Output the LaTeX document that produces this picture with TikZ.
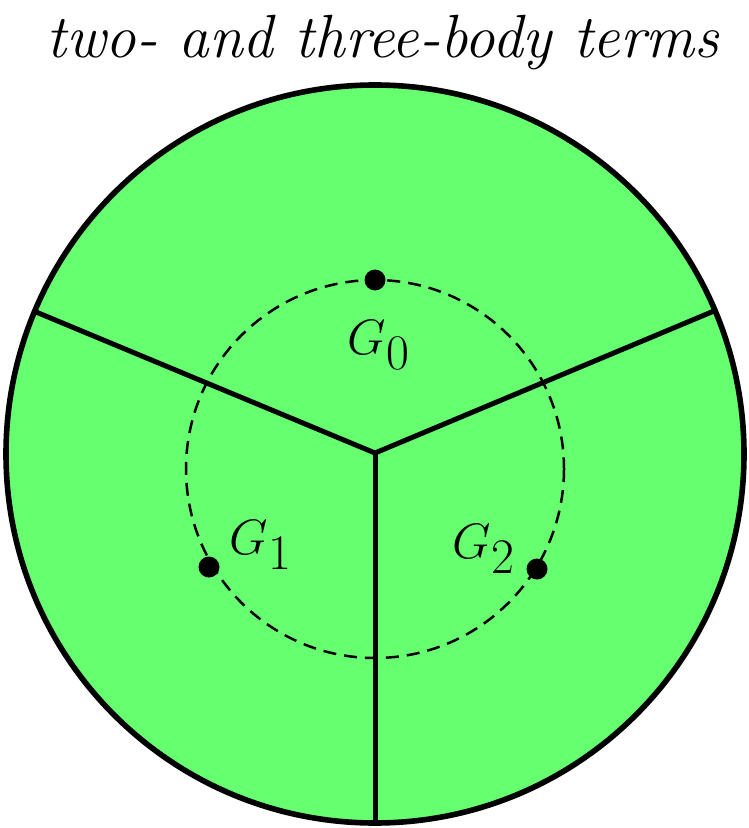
\documentclass[tikz,border=0pt]{standalone}
\definecolor{regiongreen}{RGB}{102,255,112}
\tikzset{
  px/.style={x=0.5pt,y=-0.5pt},
  outerline/.style={line width=2.8pt},
  divider/.style={line width=2.5pt},
  dashcircle/.style={line width=1.25pt,dash pattern=on 6.5pt off 4pt},
  gdot/.style={circle,fill=black,inner sep=0pt,minimum size=10.5pt},
  glabel/.style={font=\fontsize{33}{40}\selectfont},
  titletext/.style={font=\fontsize{30.5}{36}\selectfont\itshape}
}
\begin{document}
\begin{tikzpicture}[px]
\useasboundingbox (0,0) rectangle (748,828);
\coordinate (C) at (375,454);
\coordinate (J) at (375,453);
\coordinate (D) at (375,469);
\coordinate (L) at (36,312);
\coordinate (R) at (714,311);
\coordinate (B) at (375,823);
\fill[regiongreen] (C) circle[radius=369];
\draw[dashcircle] (D) circle[radius=189];
\draw[divider] (J) -- (L);
\draw[divider] (J) -- (R);
\draw[divider] (J) -- (B);
\draw[outerline] (C) circle[radius=369];
\node[gdot] (g0) at (375,280) {};
\node[gdot] (g1) at (209,567) {};
\node[gdot] (g2) at (537,569) {};
\node[glabel] (l0) at (379,345) {$G_0$};
\node[glabel] (l1) at (261,545) {$G_1$};
\node[glabel] (l2) at (484,549) {$G_2$};
\node[titletext,anchor=base] (title) at (382.5,58) {two- and three-body terms};
\end{tikzpicture}
\end{document}
